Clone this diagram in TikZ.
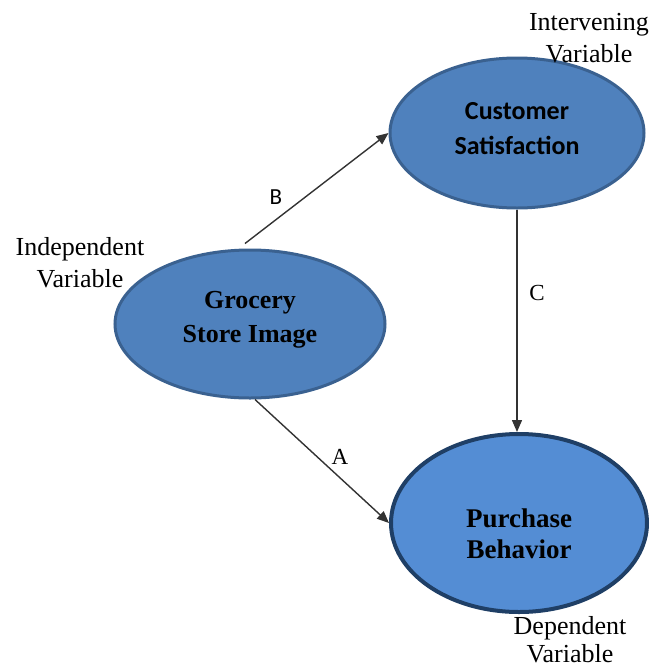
\documentclass[tikz,border=0pt]{standalone}
\usepackage{fontspec}
\setmainfont{Liberation Serif}
\newfontfamily\calib{Carlito}
\usetikzlibrary{shapes.geometric,arrows.meta}
\definecolor{fillA}{HTML}{4F81BD}
\definecolor{borderA}{HTML}{3A6190}
\definecolor{fillB}{HTML}{548DD4}
\definecolor{borderB}{HTML}{1F3F66}
\definecolor{lineC}{HTML}{333333}
\tikzset{
  oval/.style={ellipse, fill=fillA, draw=borderA, line width=3pt, inner sep=0pt},
  ovalB/.style={ellipse, fill=fillB, draw=borderB, line width=4pt, inner sep=0pt},
  intext/.style={align=center, inner sep=0pt},
  conn/.style={draw=lineC, line width=1.4pt, -{Triangle[length=12pt,width=10pt]}},
  lbl/.style={font=\fontsize{26}{32}\selectfont, align=center, inner sep=0pt},
  elbl/.style={font=\fontsize{23}{28}\selectfont, inner sep=0pt},
}
\begin{document}
\begin{tikzpicture}[x=1pt,y=-1pt]
\useasboundingbox (0,0) rectangle (652,670);
\node[oval, minimum width=254pt, minimum height=150pt] (cs) at (517,133) {};
\node[oval, minimum width=270pt, minimum height=148pt] (gsi) at (250,324) {};
\node[ovalB, minimum width=256pt, minimum height=178pt] (pb) at (519,523) {};
\node[intext, font=\calib\bfseries\fontsize{26}{35}\selectfont] (cst) at ([yshift=4pt]cs.center) {Customer\\Satisfaction};
\node[intext, font=\bfseries\fontsize{26}{34}\selectfont] (gsit) at ([yshift=4pt]gsi.center) {Grocery\\Store Image};
\node[intext, font=\bfseries\fontsize{27}{31}\selectfont] (pbt) at ([yshift=-11pt]pb.center) {Purchase\\Behavior};
\draw[conn] ([shift={(-5,-5)}]gsi.north) -- (cs.west);
\draw[conn] (cs.south) -- (cs.south |- pb.north);
\draw[conn] ([shift={(5,0)}]gsi.south) -- (pb.west);
\node[elbl, font=\calib\fontsize{23}{28}\selectfont] (lb) at (276,197) {B};
\node[elbl] (lc) at (537,293) {C};
\node[elbl] (la) at (340,457) {A};
\node[lbl] (iv) at (589,38) {Intervening\\Variable};
\node[lbl] (idv) at (80,263) {Independent\\Variable};
\node[lbl, font=\fontsize{26}{28}\selectfont] (dv) at (570,640) {Dependent\\Variable};
\end{tikzpicture}
\end{document}
